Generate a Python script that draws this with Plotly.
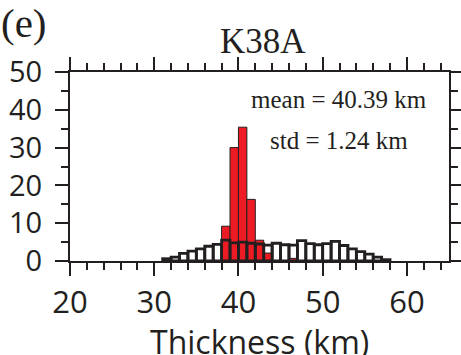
import plotly.graph_objects as go

# Histogram bins (left edges, km) and percentages
all_bins = [31, 32, 33, 34, 35, 36, 37, 38, 39, 40, 41, 42, 43, 44, 45, 46, 47, 48, 49, 50, 51, 52, 53, 54, 55, 56, 57]
all_vals = [0.6, 1.0, 2.0, 2.6, 3.2, 3.9, 4.4, 5.5, 4.8, 5.0, 4.7, 4.5, 4.2, 4.7, 4.3, 4.2, 5.4, 4.6, 4.3, 4.6, 5.2, 4.1, 3.2, 2.5, 1.8, 1.0, 0.35]

sel_bins = [38, 39, 40, 41, 42, 43, 46]
sel_vals = [9.2, 30.0, 35.4, 16.3, 5.5, 2.1, 0.7]

title_text = "K38A"
panel_label = "(e)"
mean_text = "mean = 40.39 km"
std_text = "std = 1.24 km"
x_title = "Thickness (km)"

INK = "#231F20"
RED = "#ED1C24"

fig = go.Figure()
fig.add_trace(go.Bar(
    x=[b + 0.5 for b in sel_bins], y=sel_vals, width=1,
    marker=dict(color=RED, line=dict(color=INK, width=1)),
    showlegend=False,
))
fig.add_trace(go.Bar(
    x=[b + 0.5 for b in all_bins], y=all_vals, width=1,
    marker=dict(color="rgba(0,0,0,0)", line=dict(color=INK, width=2.8)),
    showlegend=False,
))

fig.update_layout(
    width=461, height=355,
    margin=dict(l=70, r=12, t=72, b=94),
    barmode="overlay",
    plot_bgcolor="white", paper_bgcolor="white",
    font=dict(family="Open Sans", color=INK),
)
fig.update_xaxes(
    range=[20, 65], tickvals=[20, 30, 40, 50, 60],
    ticks="outside", ticklen=13, tickwidth=2, tickcolor=INK,
    minor=dict(dtick=2, tick0=20, ticks="outside", ticklen=7, tickwidth=1.5, tickcolor=INK),
    showline=True, linecolor=INK, linewidth=2.2, mirror="allticks",
    showgrid=False, zeroline=False, automargin=False,
    tickfont=dict(family="Open Sans", size=31, color=INK),
    ticklabelstandoff=0,
)
fig.update_yaxes(
    range=[0, 50], tickvals=[0, 10, 20, 30, 40, 50],
    ticks="outside", ticklen=13, tickwidth=2, tickcolor=INK,
    minor=dict(dtick=5, tick0=0, ticks="outside", ticklen=7, tickwidth=1.5, tickcolor=INK),
    showline=True, linecolor=INK, linewidth=2.2, mirror="allticks",
    showgrid=False, zeroline=False, automargin=False,
    tickfont=dict(family="Open Sans", size=29, color=INK),
    ticklabelstandoff=7,
)

fig.add_annotation(text=x_title, xref="paper", yref="paper", x=0.5, y=0, yshift=-57,
                   showarrow=False, font=dict(family="Open Sans", size=32, color=INK),
                   xanchor="center", yanchor="top")
fig.add_annotation(text=title_text, xref="paper", yref="paper", x=0.508, y=1.0, yshift=9,
                   showarrow=False, font=dict(family="Liberation Serif", size=35, color=INK),
                   xanchor="center", yanchor="bottom")
fig.add_annotation(text=panel_label, xref="paper", yref="paper", x=0, xshift=-71, y=1.0, yshift=49,
                   showarrow=False, font=dict(family="Liberation Serif", size=41, color=INK),
                   xanchor="left", yanchor="middle")
fig.add_annotation(text=mean_text, xref="paper", yref="paper", x=0.71, y=1.0, yshift=-27,
                   showarrow=False, font=dict(family="Liberation Serif", size=25, color=INK),
                   xanchor="center", yanchor="middle")
fig.add_annotation(text=std_text, xref="paper", yref="paper", x=0.71, y=1.0, yshift=-68,
                   showarrow=False, font=dict(family="Liberation Serif", size=25, color=INK),
                   xanchor="center", yanchor="middle")

fig.write_html("out.html", config={"displayModeBar": False},
               post_script="document.body.style.margin='0px';document.body.style.overflow='hidden';")
